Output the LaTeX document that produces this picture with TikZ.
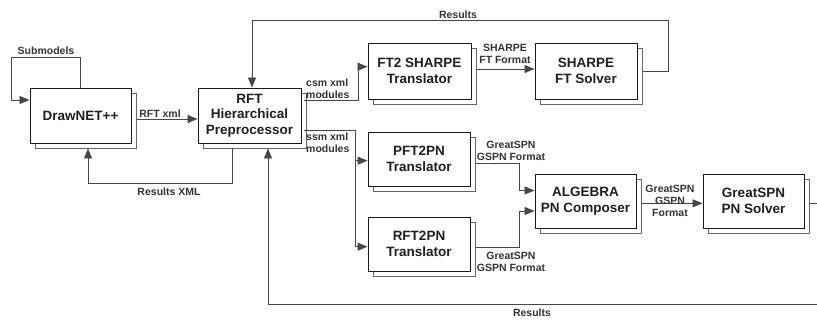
\documentclass[tikz,border=0pt]{standalone}
\usepackage{fontspec}
\setmainfont{Liberation Sans}
\usetikzlibrary{shadows,arrows.meta}
\begin{document}
\begin{tikzpicture}[x=1pt,y=1pt,
  box/.style={draw=black!90, line width=0.9pt, fill=white, inner sep=0pt,
    font=\fontsize{13.5}{15.5}\selectfont\bfseries, text=black!88, align=center,
    copy shadow={shadow xshift=5pt, shadow yshift=-5pt, draw=black!60, fill=white, line width=0.8pt}},
  conn/.style={draw=black!72, line width=0.8pt},
  arr/.style={conn, -{Triangle[length=10pt,width=8pt]}},
  lbl/.style={font=\fontsize{10.5}{12}\selectfont\bfseries, text=black!80, align=center, inner sep=0pt}
]
\useasboundingbox (0,0) rectangle (817,320);

% boxes
\node[box, minimum width=101pt, minimum height=55pt] (dn) at (80.5,204.5) {DrawNET++};
\node[box, minimum width=103pt, minimum height=55pt] (rft) at (249.5,204.5) {RFT\\Hierarchical\\Preprocessor};
\node[box, minimum width=103pt, minimum height=56pt] (ft2) at (419.5,249) {FT2 SHARPE\\Translator};
\node[box, minimum width=102pt, minimum height=56pt] (sh) at (586,249) {SHARPE\\FT Solver};
\node[box, minimum width=102pt, minimum height=54pt] (pft) at (419,161) {PFT2PN\\Translator};
\node[box, minimum width=102pt, minimum height=54pt] (rft2) at (419,76) {RFT2PN\\Translator};
\node[box, minimum width=101pt, minimum height=54pt] (alg) at (585.5,119) {ALGEBRA\\PN Composer};
\node[box, minimum width=101pt, minimum height=54pt] (gs) at (753.5,119) {GreatSPN\\PN Solver};

% edge coordinates (picture is cut at its right border)
\coordinate (rgtA) at (817,116.7);
\coordinate (rgtB) at (817,15.7);
\coordinate (ssmj) at (355,190);

% connectors
\draw[arr] (dn.north) |- (11,263) |- ([yshift=15.5pt]dn.west);
\draw[arr] ([xshift=6pt,yshift=-3.5pt]dn.east) -- ([yshift=-3.5pt]rft.west);
\draw[arr] ([xshift=-17.5pt,yshift=-5pt]rft.south) |- (88,137) -- ([xshift=7.5pt,yshift=-5pt]dn.south);
\draw[arr] ([xshift=6pt]sh.east) -| (668,300) -| ([xshift=2.5pt]rft.north);
\draw[arr] ([xshift=3pt,yshift=15.5pt]rft.east) -| (358,253.3) -- ([yshift=4.3pt]ft2.west);
\draw[arr] ([xshift=6pt,yshift=2pt]ft2.east) -- ([yshift=2pt]sh.west);
\draw[conn] ([xshift=3pt,yshift=-14.5pt]rft.east) -- (ssmj);
\draw[arr] (ssmj) |- ([yshift=-1.7pt]pft.west);
\draw[arr] (ssmj) |- ([yshift=-2.7pt]rft2.west);
\draw[arr] ([xshift=6pt,yshift=-4pt]pft.east) -| (519,129.5) -- ([yshift=10.5pt]alg.west);
\draw[arr] ([xshift=6pt,yshift=-3.3pt]rft2.east) -| (519,109) -- ([yshift=-10pt]alg.west);
\draw[arr] ([xshift=5pt,yshift=-2.3pt]alg.east) -- ([yshift=-2.3pt]gs.west);
\draw[conn] ([xshift=6pt,yshift=-2.3pt]gs.east) -- (rgtA);
\draw[arr] (rgtB) -| ([xshift=18.5pt,yshift=-5pt]rft.south);

% labels
\node[lbl] (lsub) at (46,269) {Submodels};
\node[lbl] (lrx) at (160,206) {RFT xml};
\node[lbl] (lrxml) at (169,128.5) {Results XML};
\node[lbl] (lres1) at (458,305) {Results};
\node[lbl, align=left, anchor=west] (lcsm) at (306,231) {csm xml\\modules};
\node[lbl, align=left, anchor=west] (lssm) at (306,177.5) {ssm xml\\modules};
\node[lbl] (lsfmt) at (505,266) {SHARPE\\FT Format};
\node[lbl] (lg1) at (511,168.7) {GreatSPN\\GSPN Format};
\node[lbl] (lg2) at (511,58.3) {GreatSPN\\GSPN Format};
\node[lbl] (lg3) at (670,119.5) {GreatSPN\\GSPN\\Format};
\node[lbl] (lres2) at (532,7) {Results};
\end{tikzpicture}
\end{document}
